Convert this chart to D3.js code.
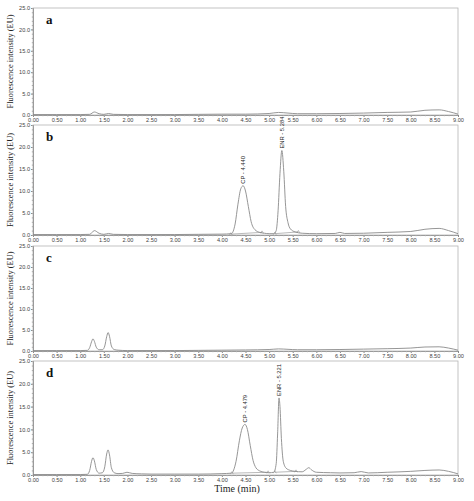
<!DOCTYPE html>
<html><head><meta charset="utf-8">
<script src="https://cdn.jsdelivr.net/npm/d3@7"></script>
<style>body{margin:0;background:#fff}svg{display:block}</style>
</head><body>
<svg id="c" width="474" height="501"></svg>
<script>
const panelLetters = ["a","b","c","d"];
const xTicks = [0,0.5,1,1.5,2,2.5,3,3.5,4,4.5,5,5.5,6,6.5,7,7.5,8,8.5,9];
const yTicks = [0,5,10,15,20,25];

const timeA = [0,0.5,1.0,1.2,1.3,1.4,1.5,1.6,1.7,2.0,2.5,3.0,3.5,4.0,4.5,5.0,5.2,5.4,5.6,6.0,6.5,7.0,7.5,8.0,8.3,8.6,8.8,9.0];
const valA  = [0.1,0.1,0.1,0.15,0.7,0.3,0.15,0.35,0.15,0.1,0.1,0.1,0.15,0.2,0.2,0.35,0.6,0.45,0.3,0.3,0.35,0.45,0.6,0.7,1.1,1.2,0.8,0.2];

const timeB = [0,0.5,1.0,1.2,1.3,1.4,1.5,1.6,1.7,2.0,2.5,3.0,3.5,4.0,4.2,4.28,4.34,4.4,4.45,4.5,4.56,4.62,4.7,4.8,4.9,5.0,5.1,5.15,5.19,5.23,5.27,5.31,5.35,5.4,5.45,5.55,5.7,6.0,6.4,6.5,6.6,7.0,7.5,8.0,8.3,8.6,8.8,9.0];
const valB  = [0.1,0.1,0.1,0.15,1.0,0.4,0.15,0.35,0.15,0.1,0.1,0.1,0.15,0.2,0.3,2.5,7.0,10.5,11.2,10.0,6.5,3.0,1.2,0.6,0.4,0.3,0.3,1.0,5.5,14.0,19.2,14.5,6.5,2.8,1.4,0.7,0.4,0.3,0.35,0.6,0.35,0.4,0.6,0.8,1.3,1.5,1.0,0.3];

const timeC = [0,0.5,1.0,1.15,1.2,1.24,1.27,1.3,1.34,1.4,1.47,1.52,1.56,1.59,1.62,1.66,1.72,1.8,2.0,2.5,3.0,3.5,4.0,4.5,5.0,5.2,5.4,5.6,6.0,6.5,7.0,7.5,8.0,8.3,8.6,8.8,9.0];
const valC  = [0.1,0.1,0.1,0.15,0.8,2.2,2.9,2.3,0.9,0.3,0.3,1.2,3.4,4.4,3.5,1.2,0.35,0.2,0.1,0.1,0.1,0.15,0.2,0.25,0.35,0.5,0.4,0.3,0.3,0.35,0.45,0.55,0.7,0.95,1.0,0.7,0.2];

const timeD = [0,0.5,1.0,1.15,1.2,1.24,1.27,1.3,1.34,1.4,1.47,1.52,1.56,1.59,1.62,1.66,1.72,1.8,1.9,1.99,2.1,2.3,2.5,3.0,3.5,4.0,4.2,4.3,4.37,4.43,4.49,4.54,4.6,4.66,4.72,4.8,4.9,5.0,5.1,5.15,5.18,5.21,5.23,5.26,5.3,5.36,5.45,5.55,5.7,5.78,5.84,5.9,6.0,6.3,6.5,6.8,6.95,7.1,7.5,8.0,8.3,8.6,8.8,9.0];
const valD  = [0.1,0.1,0.1,0.15,1.0,3.0,3.8,3.1,1.2,0.4,0.5,1.8,4.6,5.5,4.4,1.6,0.5,0.3,0.35,0.6,0.35,0.25,0.2,0.2,0.2,0.3,0.4,3.0,7.5,10.3,11.1,10.0,6.5,3.2,1.6,0.9,0.6,0.5,0.6,2.5,9.0,16.9,15.0,8.0,3.0,1.5,1.0,0.8,0.7,1.2,1.6,1.1,0.6,0.5,0.45,0.5,0.75,0.45,0.6,0.8,1.0,1.1,0.8,0.25];

// integration baselines (start time, end time) drawn under the labelled peaks
const baseB = [[4.19,4.85],[5.12,5.62]];
const baseD = [[4.21,4.98],[5.12,5.57]];

const peakLabelsB = [{t:4.44,v:11.2,txt:"CP - 4.440"},{t:5.28,v:19.2,txt:"ENR - 5.284"}];
const peakLabelsD = [{t:4.49,v:11.1,txt:"CP - 4.479"},{t:5.21,v:16.9,txt:"ENR - 5.221"}];

const panels = [
  {letter:"a", top:8,   bottom:115, t:timeA, v:valA, base:[], labels:[]},
  {letter:"b", top:125, bottom:235, t:timeB, v:valB, base:baseB, labels:peakLabelsB},
  {letter:"c", top:246, bottom:351, t:timeC, v:valC, base:[], labels:[]},
  {letter:"d", top:361, bottom:475, t:timeD, v:valD, base:baseD, labels:peakLabelsD}
];

const svg = d3.select("#c");
const left = 33, right = 458;
const x = d3.scaleLinear().domain([0,9]).range([left,right]);
const lineCol = "#8a8a8a";

panels.forEach(p => {
  const y = d3.scaleLinear().domain([0,25]).range([p.bottom,p.top]);
  const g = svg.append("g");
  g.append("rect").attr("x",left).attr("y",p.top).attr("width",right-left).attr("height",p.bottom-p.top)
    .attr("fill","none").attr("stroke","#b5b5b5").attr("stroke-width",0.8);
  const xa = g.append("g").attr("transform",`translate(0,${p.bottom})`)
    .call(d3.axisBottom(x).tickValues(xTicks).tickFormat(d3.format(".2f")).tickSize(2).tickPadding(1));
  xa.select(".domain").attr("stroke","#888").attr("stroke-width",0.8);
  xa.selectAll(".tick line").attr("stroke","#888");
  xa.selectAll("text").attr("font-family","Liberation Sans, Arial, sans-serif").attr("font-size",5.6).attr("fill","#444");
  g.append("g").attr("transform",`translate(0,${p.bottom})`)
    .call(d3.axisBottom(x).tickValues(d3.range(0,90).map(i=>i/10)).tickFormat("").tickSize(1.2))
    .call(s=>{s.select(".domain").remove(); s.selectAll("line").attr("stroke","#aaa");});
  const ya = g.append("g").attr("transform",`translate(${left},0)`)
    .call(d3.axisLeft(y).tickValues(yTicks).tickFormat(d3.format(".1f")).tickSize(2).tickPadding(1));
  ya.select(".domain").attr("stroke","#888").attr("stroke-width",0.8);
  ya.selectAll(".tick line").attr("stroke","#888");
  ya.selectAll("text").attr("font-family","Liberation Sans, Arial, sans-serif").attr("font-size",5.6).attr("fill","#444");
  g.append("g").attr("transform",`translate(${left},0)`)
    .call(d3.axisLeft(y).tickValues(d3.range(0,26)).tickFormat("").tickSize(1.2))
    .call(s=>{s.select(".domain").remove(); s.selectAll("line").attr("stroke","#aaa");});
  const cy = (p.top+p.bottom)/2;
  g.append("text").attr("transform",`translate(13,${cy}) rotate(-90)`).attr("text-anchor","middle")
    .attr("font-family","Liberation Serif, Times New Roman, serif").attr("font-size",8.4).attr("fill","#222")
    .text("Fluorescence intensity (EU)");
  g.append("text").attr("x",46).attr("y",p.top+16).attr("font-family","Liberation Serif, Times New Roman, serif")
    .attr("font-weight","bold").attr("font-size",13).attr("fill","#111").text(p.letter);
  const pts = p.t.map((t,i)=>[t,p.v[i]]);
  const line = d3.line().x(d=>x(d[0])).y(d=>y(d[1])).curve(d3.curveMonotoneX);
  g.append("path").attr("d",line(pts)).attr("fill","none").attr("stroke",lineCol).attr("stroke-width",0.9);
  p.base.forEach(b=>{
    const interp = t => { const i = d3.bisectLeft(p.t,t); return p.v[Math.max(0,i-1)]; };
    const y0 = y(interp(b[0])), y1 = y(interp(b[1]));
    g.append("line").attr("x1",x(b[0])).attr("x2",x(b[1])).attr("y1",y0).attr("y2",y1)
      .attr("stroke",lineCol).attr("stroke-width",0.6);
    [[b[0],y0],[b[1],y1]].forEach(q=>{
      g.append("path").attr("d",`M${x(q[0])-1.5},${q[1]+1}L${x(q[0])},${q[1]-1.5}L${x(q[0])+1.5},${q[1]+1}`)
        .attr("fill","none").attr("stroke",lineCol).attr("stroke-width",0.5);
    });
  });
  p.labels.forEach(l=>{
    g.append("text").attr("transform",`translate(${x(l.t)+2},${y(l.v)-2}) rotate(-90)`)
      .attr("font-family","Liberation Sans, Arial, sans-serif").attr("font-size",5.8).attr("fill","#222")
      .text(l.txt);
  });
});

svg.append("text").attr("x",237).attr("y",492).attr("text-anchor","middle")
  .attr("font-family","Liberation Serif, Times New Roman, serif").attr("font-size",10).attr("fill","#222")
  .text("Time (min)");
</script>
</body></html>
